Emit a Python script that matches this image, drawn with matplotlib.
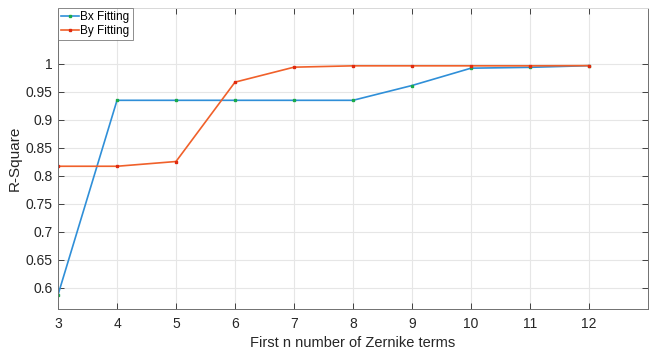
import matplotlib
matplotlib.use("Agg")
import matplotlib.pyplot as plt

n_terms = [3, 4, 5, 6, 7, 8, 9, 10, 11, 12]
bx_r2 = [0.587, 0.935, 0.935, 0.935, 0.935, 0.935, 0.9615, 0.9925, 0.994, 0.997]
by_r2 = [0.817, 0.817, 0.8255, 0.9675, 0.9943, 0.9967, 0.9967, 0.9967, 0.9967, 0.997]
yticks = [0.6, 0.65, 0.7, 0.75, 0.8, 0.85, 0.9, 0.95, 1]
ytick_labels = ["0.6", "0.65", "0.7", "0.75", "0.8", "0.85", "0.9", "0.95", "1"]

plt.rcParams['font.family'] = ['Liberation Sans', 'DejaVu Sans']

fig = plt.figure(figsize=(6.57, 3.52), dpi=100)
ax = fig.add_axes([0.0883, 0.122, 0.898, 0.855])

ax.plot(n_terms, bx_r2, color='#2f8fd8', lw=1.2, marker='s', ms=2,
        mfc='#1aaa4a', mec='#1aaa4a', label='Bx Fitting')
ax.plot(n_terms, by_r2, color='#f0602a', lw=1.2, marker='s', ms=2,
        mfc='#e02a10', mec='#e02a10', label='By Fitting')

ax.set_xlim(3, 13)
ax.set_ylim(0.5615, 1.1)
ax.set_xticks(range(3, 13))
ax.set_yticks(yticks)
ax.set_yticklabels(ytick_labels)
ax.grid(True, color='#e6e6e6', lw=0.8)
ax.set_axisbelow(True)
ax.tick_params(direction='in', top=True, right=True, labelsize=10,
               colors='#262626', length=4, width=0.6)
ax.tick_params(axis='y', pad=4)
ax.tick_params(axis='x', pad=6)
for s in ax.spines.values():
    s.set_color('#707070')
    s.set_linewidth(0.7)
ax.spines['top'].set_color('#d8d8d8')

ax.set_xlabel('First n number of Zernike terms', fontsize=10.5, color='#262626', labelpad=3)
ax.set_ylabel('R-Square', fontsize=11, color='#262626', labelpad=3)

leg = ax.legend(loc='upper left', fontsize=8.5, frameon=True, fancybox=False,
                borderpad=0.25, handlelength=1.5, handletextpad=0.15,
                labelspacing=0.2, borderaxespad=0)
leg.get_frame().set_edgecolor('#707070')
leg.get_frame().set_linewidth(0.7)

fig.savefig('out.png', dpi=100)
